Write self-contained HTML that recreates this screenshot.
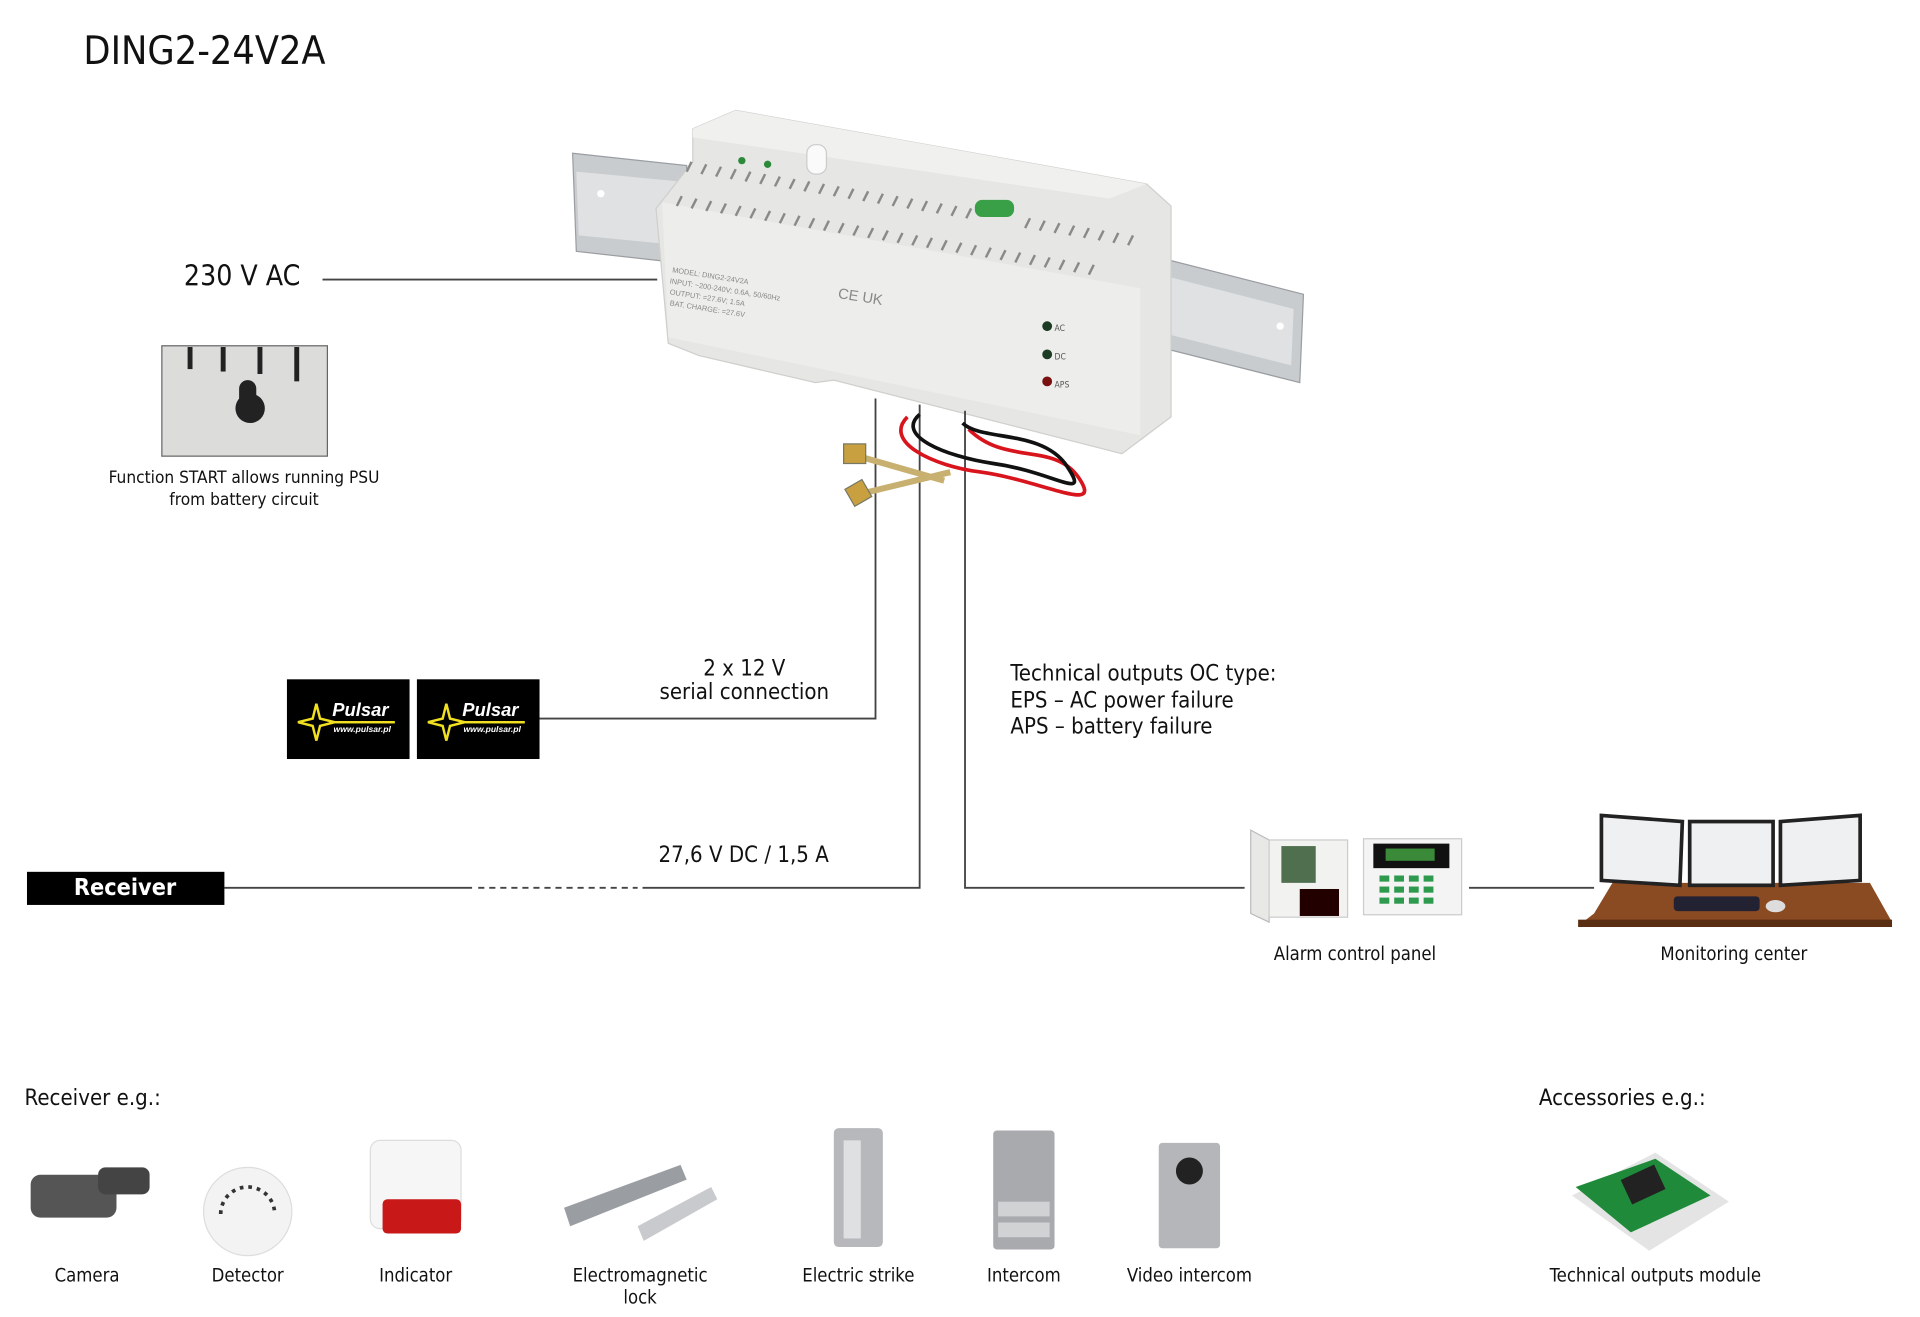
<!DOCTYPE html>
<html><head><meta charset="utf-8"><style>
html,body{margin:0;padding:0;background:#fff;width:1920px;height:1317px;overflow:hidden}
#w{position:absolute;left:0;top:0;width:1566px;height:1074px;transform:scale(1.2262);transform-origin:0 0;font-family:"DejaVu Sans Condensed","Liberation Sans",sans-serif;color:#111}
.t{position:absolute;white-space:nowrap}
.c{position:absolute;text-align:center;white-space:nowrap;transform:translateX(-50%)}
svg{position:absolute;left:0;top:0}
</style></head><body><div id="w">
<svg width="1566" height="1074" viewBox="0 0 1566 1074">
<polygon points="467,125 560,135 560,215 470,205" fill="#c9cccf" stroke="#9a9ea2"/>
<polygon points="470,140 555,148 555,200 472,192" fill="#dfe1e3"/>
<circle cx="490" cy="158" r="3" fill="#fff"/>
<polygon points="945,210 1063,240 1060,312 945,283" fill="#c9cccf" stroke="#9a9ea2"/>
<polygon points="950,225 1055,252 1053,298 950,272" fill="#dfe1e3"/>
<circle cx="1044" cy="266" r="3" fill="#fff"/>
<polygon points="600,90 935,150 955,168 955,340 915,370 680,310 665,312 570,290 545,280 535,170 565,132 565,105" fill="#e6e6e4" stroke="#cfcfcc"/>
<polygon points="565,105 600,90 935,150 905,162 565,112" fill="#f0f0ee"/>
<polygon points="540,165 930,235 930,355 545,275" fill="#ededeb"/>
<g stroke="#8a8a88" stroke-width="2">
<path d="M560,140l4,-8M572,142l4,-8M584,144l4,-8M596,146l4,-8M608,148l4,-8M620,150l4,-8M632,152l4,-8M644,154l4,-8M656,156l4,-8M668,158l4,-8M680,160l4,-8M692,162l4,-8M704,164l4,-8M716,166l4,-8M728,168l4,-8M740,170l4,-8M752,172l4,-8M764,174l4,-8M776,176l4,-8M788,178l4,-8M836,186l4,-8M848,188l4,-8M860,190l4,-8M872,192l4,-8M884,194l4,-8M896,196l4,-8M908,198l4,-8M920,200l4,-8"/>
<path d="M552,168l4,-8M564,170l4,-8M576,172l4,-8M588,174l4,-8M600,176l4,-8M612,178l4,-8M624,180l4,-8M636,182l4,-8M648,184l4,-8M660,186l4,-8M672,188l4,-8M684,190l4,-8M696,192l4,-8M708,194l4,-8M720,196l4,-8M732,198l4,-8M744,200l4,-8M756,202l4,-8M768,204l4,-8M780,206l4,-8M792,208l4,-8M804,210l4,-8M816,212l4,-8M828,214l4,-8M840,216l4,-8M852,218l4,-8M864,220l4,-8M876,222l4,-8M888,224l4,-8"/>
</g>
<rect x="795" y="163" width="32" height="14" rx="6" fill="#3aa048"/>
<circle cx="605" cy="131" r="3" fill="#2a8a3a"/><circle cx="626" cy="134" r="3" fill="#2a8a3a"/>
<rect x="658" y="118" width="16" height="24" rx="7" fill="#fafafa" stroke="#ccc"/>
<circle cx="854" cy="266" r="4" fill="#1d3a22"/><circle cx="854" cy="289" r="4" fill="#1d3a22"/><circle cx="854" cy="311" r="4" fill="#7a1010"/>
<text x="860" y="270" font-size="7" fill="#555">AC</text><text x="860" y="293" font-size="7" fill="#555">DC</text><text x="860" y="316" font-size="7" fill="#555">APS</text>
<g font-size="6" fill="#888" font-family="Liberation Sans"><text x="548" y="222" transform="rotate(9 548 222)">MODEL: DING2-24V2A</text><text x="546" y="231" transform="rotate(9 546 231)">INPUT: ~200-240V; 0.6A, 50/60Hz</text><text x="546" y="240" transform="rotate(9 546 240)">OUTPUT: =27.6V; 1.5A</text><text x="546" y="249" transform="rotate(9 546 249)">BAT. CHARGE: =27.6V</text><text x="683" y="243" font-size="12" transform="rotate(9 683 243)">CE UK</text></g>
<g stroke="#444" stroke-width="1.5" fill="none">
<line x1="263" y1="228" x2="536" y2="228"/>
<polyline points="714,325 714,586 440,586"/>
<polyline points="750,330 750,724 524,724"/>
<line x1="183" y1="724" x2="385" y2="724"/>
<line x1="390" y1="724" x2="520" y2="724" stroke-dasharray="5,4"/>
<polyline points="787,335 787,724 1015,724"/>
<line x1="1198" y1="724" x2="1300" y2="724"/>
</g>
<g fill="none" stroke-width="3">
<path d="M740,340 C720,360 760,380 800,385 C850,392 900,420 880,390 C860,360 820,380 790,350" stroke="#d8141c"/>
<path d="M750,338 C730,355 770,372 810,378 C860,385 890,410 870,380 C850,350 800,360 785,345" stroke="#111"/>
<path d="M700,372 L770,392 M705,402 L775,385" stroke="#c8b070" stroke-width="5"/>
</g>
<rect x="688" y="362" width="18" height="16" fill="#c8a040" stroke="#776"/>
<rect x="692" y="394" width="16" height="16" fill="#c8a040" stroke="#776" transform="rotate(-30 700 402)"/>
<rect x="132" y="282" width="135" height="90" fill="#dcdcdb" stroke="#666"/>
<g fill="#222"><rect x="153" y="283" width="4" height="18"/><rect x="180" y="283" width="4" height="20"/><rect x="210" y="283" width="4" height="22"/><rect x="240" y="283" width="4" height="28"/><rect x="195" y="310" width="14" height="24" rx="7"/><circle cx="204" cy="333" r="12"/></g>
<rect x="234" y="554" width="100" height="65" fill="#000"/><rect x="340" y="554" width="100" height="65" fill="#000"/>
<g><path d="M258,574 l3,12 l12,3 l-12,3 l-3,12 l-3,-12 l-12,-3 l12,-3z" fill="none" stroke="#f0e020" stroke-width="2"/><path d="M364,574 l3,12 l12,3 l-12,3 l-3,12 l-3,-12 l-12,-3 l12,-3z" fill="none" stroke="#f0e020" stroke-width="2"/></g>
<g font-family="Liberation Sans" font-weight="bold" font-style="italic" fill="#fff"><text x="271" y="584" font-size="15">Pulsar</text><text x="377" y="584" font-size="15">Pulsar</text><text x="272" y="597" font-size="7">www.pulsar.pl</text><text x="378" y="597" font-size="7">www.pulsar.pl</text></g>
<rect x="272" y="588" width="50" height="2" fill="#f0e020"/><rect x="378" y="588" width="50" height="2" fill="#f0e020"/>
<rect x="22" y="711" width="161" height="27" fill="#000"/>
<polygon points="1020,677 1035,685 1035,752 1020,745" fill="#e8e8e6" stroke="#bbb"/>
<rect x="1035" y="685" width="64" height="63" fill="#f2f2f0" stroke="#ccc"/>
<rect x="1045" y="690" width="28" height="30" fill="#4f6f4f"/><rect x="1060" y="725" width="32" height="22" fill="#200"/>
<rect x="1112" y="684" width="80" height="62" fill="#f4f4f4" stroke="#ccc"/>
<rect x="1120" y="688" width="62" height="20" fill="#111"/><rect x="1130" y="692" width="40" height="10" fill="#3a8a3a"/>
<g fill="#2e9a4e"><rect x="1125" y="714" width="8" height="5"/><rect x="1137" y="714" width="8" height="5"/><rect x="1149" y="714" width="8" height="5"/><rect x="1161" y="714" width="8" height="5"/><rect x="1125" y="723" width="8" height="5"/><rect x="1137" y="723" width="8" height="5"/><rect x="1149" y="723" width="8" height="5"/><rect x="1161" y="723" width="8" height="5"/><rect x="1125" y="732" width="8" height="5"/><rect x="1137" y="732" width="8" height="5"/><rect x="1149" y="732" width="8" height="5"/><rect x="1161" y="732" width="8" height="5"/></g>
<polygon points="1300,745 1315,720 1525,720 1543,752 1287,755" fill="#8a4a22"/>
<rect x="1287" y="750" width="256" height="6" fill="#5a2e12"/>
<g fill="#eef0f2" stroke="#222" stroke-width="3"><polygon points="1306,665 1372,670 1370,722 1306,718"/><rect x="1378" y="670" width="68" height="52"/><polygon points="1452,670 1517,665 1517,718 1452,722"/></g>
<rect x="1365" y="731" width="70" height="12" fill="#223" rx="3"/><ellipse cx="1448" cy="739" rx="8" ry="5" fill="#ddd"/>
<rect x="25" y="958" width="70" height="35" rx="8" fill="#555"/><rect x="80" y="952" width="42" height="22" rx="6" fill="#444"/>
<circle cx="202" cy="988" r="36" fill="#f3f3f3" stroke="#ddd"/><path d="M180,990 a22,22 0 0 1 44,0" fill="none" stroke="#333" stroke-width="3" stroke-dasharray="3,4"/>
<rect x="302" y="930" width="74" height="72" rx="8" fill="#f6f6f6" stroke="#ddd"/><rect x="312" y="978" width="64" height="28" rx="4" fill="#c81818"/>
<polygon points="460,985 555,950 560,962 465,1000" fill="#9a9ea2"/><polygon points="520,1000 580,968 585,978 525,1012" fill="#c8cacd"/>
<rect x="680" y="920" width="40" height="97" rx="4" fill="#b6b8bb"/><rect x="688" y="930" width="14" height="80" fill="#dfe0e2"/>
<rect x="810" y="922" width="50" height="97" rx="3" fill="#a8aaad"/><rect x="814" y="980" width="42" height="12" fill="#d0d2d4"/><rect x="814" y="997" width="42" height="12" fill="#d0d2d4"/>
<rect x="945" y="932" width="50" height="86" rx="3" fill="#b4b6b9"/><circle cx="970" cy="955" r="11" fill="#222"/>
<polygon points="1282,975 1350,940 1410,980 1345,1020" fill="#e4e4e4"/><polygon points="1285,968 1350,945 1395,975 1330,1005" fill="#1f8a3a"/><rect x="1325" y="955" width="30" height="22" fill="#222" transform="rotate(-25 1340 966)"/>
</svg>
<div class="t" style="left:68px;top:22px;font-size:32px">DING2-24V2A</div>
<div class="t" style="left:150px;top:213px;font-size:23px">230 V AC</div>
<div class="c" style="left:199px;top:381px;font-size:14px;line-height:18px">Function START allows running PSU<br>from battery circuit</div>
<div class="c" style="left:607px;top:536px;font-size:18px;line-height:19px">2 x 12 V<br>serial connection</div>
<div class="t" style="left:824px;top:539px;font-size:18px;line-height:21.5px">Technical outputs OC type:<br>EPS – AC power failure<br>APS – battery failure</div>
<div class="t" style="left:537px;top:687px;font-size:18px">27,6 V DC / 1,5 A</div>
<div class="c" style="left:102px;top:713px;font-size:19px;font-weight:bold;color:#fff">Receiver</div>
<div class="c" style="left:1105px;top:769px;font-size:15px">Alarm control panel</div>
<div class="c" style="left:1414px;top:769px;font-size:15px">Monitoring center</div>
<div class="t" style="left:20px;top:885px;font-size:18px">Receiver e.g.:</div>
<div class="t" style="left:1255px;top:885px;font-size:18px">Accessories e.g.:</div>
<div class="c" style="left:71px;top:1031px;font-size:15px">Camera</div>
<div class="c" style="left:202px;top:1031px;font-size:15px">Detector</div>
<div class="c" style="left:339px;top:1031px;font-size:15px">Indicator</div>
<div class="c" style="left:522px;top:1031px;font-size:15px;line-height:18px">Electromagnetic<br>lock</div>
<div class="c" style="left:700px;top:1031px;font-size:15px">Electric strike</div>
<div class="c" style="left:835px;top:1031px;font-size:15px">Intercom</div>
<div class="c" style="left:970px;top:1031px;font-size:15px">Video intercom</div>
<div class="c" style="left:1350px;top:1031px;font-size:15px">Technical outputs module</div>
</div></body></html>
